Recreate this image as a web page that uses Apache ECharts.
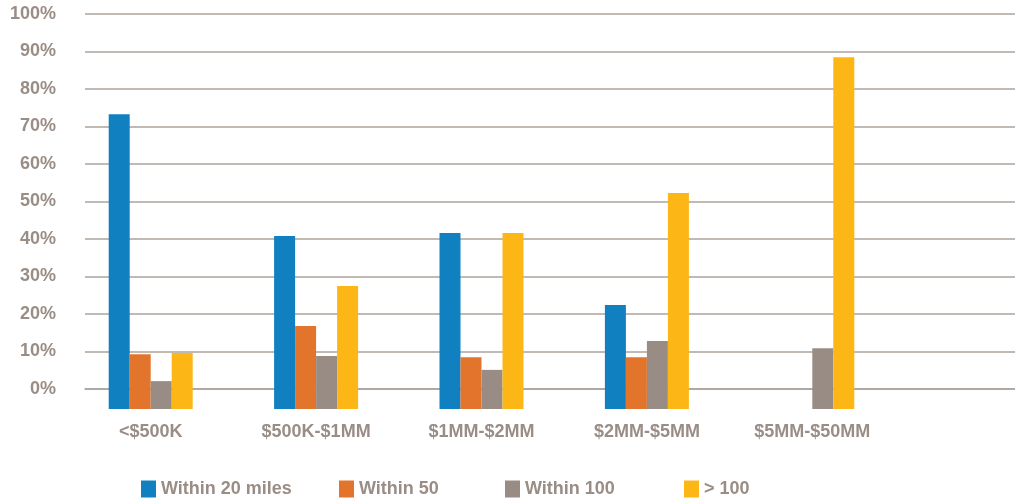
<!DOCTYPE html>
<html>
<head>
<meta charset="utf-8">
<script src="https://cdn.jsdelivr.net/npm/echarts@6/dist/echarts.min.js"></script>
<style>
  html, body { margin: 0; padding: 0; background: #ffffff; }
  #chart { width: 1015px; height: 500px; }
</style>
</head>
<body>
<div id="chart"></div>
<script>
// ---- data (percent, read against the labelled axis) ----
const categories = ['<$500K', '$500K-$1MM', '$1MM-$2MM', '$2MM-$5MM', '$5MM-$50MM'];
const seriesNames = ['Within 20 miles', 'Within 50', 'Within 100', '> 100'];
const within20 = [73.3, 40.8, 41.6, 22.4, null];
const within50 = [9.3, 16.8, 8.5, 8.5, null];
const within100 = [2.1, 8.8, 5.1, 12.8, 10.9];
const over100 = [9.6, 27.5, 41.6, 52.3, 88.5];
const yTicks = [0, 10, 20, 30, 40, 50, 60, 70, 80, 90, 100];

// The bars in the original rise from a baseline drawn a little below the 0% line.
const BASE_OFFSET = 20 / 3.75; // in percent units of the labelled axis

const colors = ['#1180C0', '#E3742C', '#998C84', '#FCB716'];
const txt = '#9a8d86';
const font = "'Liberation Sans', Arial, sans-serif";
const lineColor = '#aca29b';

const values = [within20, within50, within100, over100];
const chart = echarts.init(document.getElementById('chart'));

const legendLefts = [141, 339, 505, 684];

chart.setOption({
  animation: false,
  backgroundColor: '#ffffff',
  textStyle: { fontFamily: font },
  grid: [
    // grid 0: bars
    { left: 68, right: 120, top: 14, bottom: 91 },
    // grid 1: labelled axis + grid lines
    { left: 85, right: 0, top: 14, bottom: 111 }
  ],
  legend: seriesNames.map((n, i) => ({
    data: [n],
    left: legendLefts[i],
    top: 480,
    icon: 'rect',
    itemWidth: 15,
    itemHeight: 17,
    padding: 0,
    textStyle: { color: txt, fontSize: 18, fontWeight: 'bold', fontFamily: font }
  })),
  xAxis: [
    {
      gridIndex: 0,
      type: 'category',
      data: categories,
      axisLine: { show: false },
      axisTick: { show: false },
      axisLabel: { color: txt, fontSize: 18, fontWeight: 'bold', margin: 14, fontFamily: font }
    },
    {
      gridIndex: 1,
      type: 'value',
      min: 0, max: 1,
      offset: 20,
      axisLine: { show: true, lineStyle: { color: lineColor, width: 1.5 } },
      axisTick: { show: false },
      axisLabel: { show: false },
      splitLine: { show: false }
    }
  ],
  yAxis: [
    {
      gridIndex: 0,
      type: 'value',
      min: 0,
      max: 100 + BASE_OFFSET,
      show: false,
      splitLine: { show: false }
    },
    {
      gridIndex: 1,
      type: 'value',
      min: yTicks[0],
      max: yTicks[yTicks.length - 1],
      interval: 10,
      axisLine: { show: false },
      axisTick: { show: false },
      axisLabel: {
        color: txt, fontSize: 18, fontWeight: 'bold', margin: 29, fontFamily: font,
        padding: [4, 0, 0, 0],
        formatter: v => v + '%'
      },
      splitLine: { show: true, lineStyle: { color: lineColor, width: 1.5 } }
    }
  ],
  series: seriesNames.map((n, i) => ({
    name: n,
    type: 'bar',
    xAxisIndex: 0,
    yAxisIndex: 0,
    barWidth: 21,
    barGap: '0%',
    itemStyle: { color: colors[i] },
    data: values[i].map(v => v == null ? null : v + BASE_OFFSET)
  }))
});
</script>
</body>
</html>
